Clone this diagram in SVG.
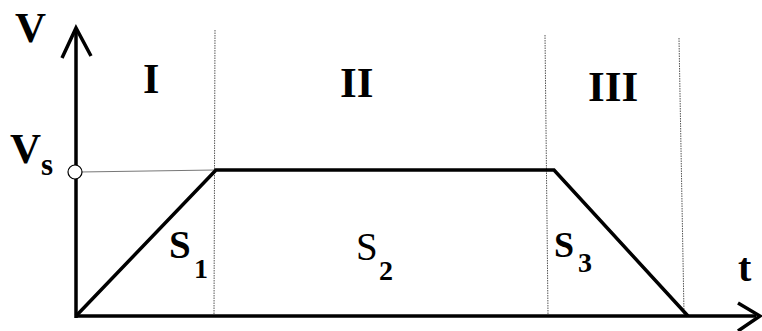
<svg xmlns="http://www.w3.org/2000/svg" width="762" height="331" viewBox="0 0 762 331">
<style>
.t{font-family:"Liberation Serif","Times New Roman",serif;font-weight:bold;fill:#000}
.n{font-weight:normal}
.grid{stroke:#555;stroke-width:1;stroke-dasharray:1.5 1;fill:none}
.ax{stroke:#000;stroke-width:3.5;fill:none}
.curve{stroke:#000;stroke-width:3.5;fill:none;stroke-linejoin:miter}
</style>
<rect width="762" height="331" fill="#fff"/>
<g id="gridlines">
<line class="grid" x1="215" y1="30" x2="214" y2="316"/>
<line class="grid" x1="545" y1="35" x2="548" y2="314"/>
<line class="grid" x1="679" y1="38" x2="684" y2="314"/>
<line x1="80" y1="172" x2="215" y2="170" stroke="#777" stroke-width="1"/>
</g>
<g id="axes">
<line class="ax" x1="76" y1="318" x2="76" y2="32"/>
<polyline class="ax" points="62,58 76,28 91,56" stroke-width="4"/>
<line class="ax" x1="75" y1="316" x2="756" y2="316"/>
<polyline class="ax" points="738,303 760,316 738,331" stroke-width="4"/>
</g>
<g id="curve">
<polyline class="curve" points="76,316 216,170 554,170 688,316"/>
</g>
<g id="vs-marker">
<circle cx="75" cy="172" r="7" fill="#fff" stroke="#000" stroke-width="1.2"/>
</g>
<g id="labels">
<text class="t" x="15" y="42" font-size="43">V</text>
<text class="t" x="10" y="163" font-size="43">V</text>
<text class="t" x="41" y="175" font-size="31">s</text>
<text class="t" x="143" y="93" font-size="42">I</text>
<text class="t" x="340" y="97" font-size="43">II</text>
<text class="t" x="588" y="101" font-size="43">III</text>
<text class="t" x="169" y="258" font-size="39">S</text>
<text class="t" x="194" y="278" font-size="28">1</text>
<text class="t n" x="356" y="260" font-size="39">S</text>
<text class="t" x="379" y="280" font-size="28">2</text>
<text class="t" x="554" y="257" font-size="36">S</text>
<text class="t" x="578" y="272" font-size="28">3</text>
<text class="t" x="738" y="281" font-size="40">t</text>
</g>
</svg>
